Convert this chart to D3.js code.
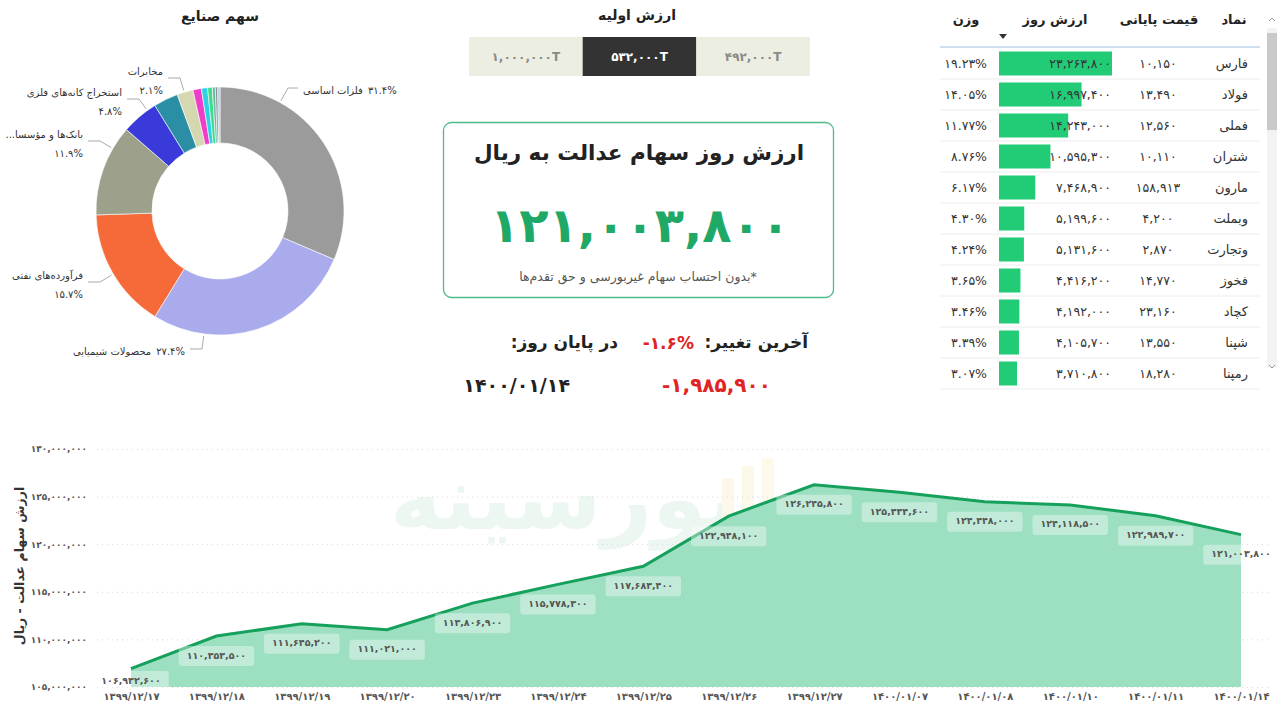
<!DOCTYPE html>
<html>
<head>
<meta charset="utf-8">
<script src="https://cdn.jsdelivr.net/npm/d3@7"></script>
<style>
body { margin: 0; background: #fff; }
svg { display: block; font-family: "DejaVu Sans", sans-serif; }
</style>
</head>
<body>
<svg width="1280" height="722"></svg>
<script>
// ---- data ----
var industries = ["فلزات اساسی", "محصولات شیمیایی", "فرآورده‌های نفتی", "بانک‌ها و مؤسسات اعتباری",
    "استخراج کانه‌های فلزی", "سایر معادن", "مخابرات", "خودرو", "سیمان", "بیمه", "دارویی", "حمل و نقل", "سایر"];
var industryShare = [31.4, 27.4, 15.7, 11.9, 4.8, 3.2, 2.1, 1.1, 0.8, 0.6, 0.4, 0.3, 0.3];

var initialValues = [1000000, 532000, 492000];
var selectedInitial = 532000;

var todayValue = 121003800;
var lastChangePct = -1.6;
var lastChange = -1985900;
var lastDate = "1400/01/14";

var symbols = ["فارس", "فولاد", "فملی", "شتران", "مارون", "وبملت", "وتجارت", "فخوز", "کچاد", "شپنا", "رمپنا"];
var closePrices = [10150, 13490, 12560, 10110, 158913, 4200, 2870, 14770, 23160, 13550, 18280];
var dayValues = [23263800, 16997400, 14243000, 10595300, 7468900, 5199600, 5131600, 4416200, 4192000, 4105700, 3710800];
var weights = [19.23, 14.05, 11.77, 8.76, 6.17, 4.30, 4.24, 3.65, 3.46, 3.39, 3.07];

var dates = ["1399/12/17", "1399/12/18", "1399/12/19", "1399/12/20", "1399/12/23", "1399/12/24", "1399/12/25",
    "1399/12/26", "1399/12/27", "1400/01/07", "1400/01/08", "1400/01/10", "1400/01/11", "1400/01/14"];
var portfolioValues = [106932600, 110353500, 111645200, 111021000, 113806900, 115778300, 117683400,
    122948100, 126245800, 125444600, 124448000, 124118500, 122989700, 121003800];

// ---- helpers ----
var RLM = "\u200F";
function fa(s) { return String(s).replace(/\d/g, function(d) { return "۰۱۲۳۴۵۶۷۸۹"[+d]; }); }
var commas = d3.format(",");

var svg = d3.select("svg");

// ================= pie (سهم صنایع) =================
var pieColors = ["#9b9b9b", "#a9abec", "#f66a3a", "#9da08b", "#3a3ada", "#2a8ea5", "#d5d7b1",
    "#ee3ec8", "#2cd3e3", "#3ddc8a", "#6fb9a8", "#8c8c8c", "#a7cde2"];
var cx = 220, cy = 211, rOuter = 124, rInner = 68;

svg.append("text")
    .attr("x", cx).attr("y", 17)
    .attr("text-anchor", "middle").attr("dominant-baseline", "middle")
    .attr("font-size", 14).attr("font-weight", "bold").attr("fill", "#222")
    .text("سهم صنایع");

var pie = d3.pie().sort(null).value(function(d) { return d; });
var arc = d3.arc().innerRadius(rInner).outerRadius(rOuter);
var arcs = pie(industryShare);

var pieG = svg.append("g").attr("transform", "translate(" + cx + "," + cy + ")");
pieG.selectAll("path").data(arcs).enter().append("path")
    .attr("d", arc)
    .attr("fill", function(d, i) { return pieColors[i]; })
    .attr("stroke", "#fff")
    .attr("stroke-width", 0.6);

// label layout: elbow point of the leader line, per labelled slice
var pieLabels = [
    { i: 0, ex: 288, ey: 88, side: "right" },
    { i: 1, ex: 202, ey: 349, side: "left1" },
    { i: 2, ex: 100, ey: 282, side: "left" },
    { i: 3, ex: 100, ey: 141, side: "left", maxW: 80 },
    { i: 4, ex: 139, ey: 99, side: "left" },
    { i: 6, ex: 180, ey: 78, side: "left" }
];

var labelG = svg.append("g").attr("font-size", 10).attr("fill", "#333");
pieLabels.forEach(function(l) {
    var dx = l.ex - cx, dy = l.ey - cy, len = Math.sqrt(dx * dx + dy * dy);
    var sx = cx + dx / len * (rOuter + 2), sy = cy + dy / len * (rOuter + 2);
    var hx = l.side === "right" ? l.ex + 10 : l.ex - 12;
    labelG.append("polyline")
        .attr("points", [[sx, sy], [l.ex, l.ey], [hx, l.ey]].join(" "))
        .attr("fill", "none").attr("stroke", "#aaa").attr("stroke-width", 1);

    var name = industries[l.i];
    var pct = fa(industryShare[l.i].toFixed(1)) + "%";
    if (l.side === "left") {
        var nt = labelG.append("text")
            .attr("x", l.ex - 17).attr("y", l.ey - 6)
            .attr("text-anchor", "end").attr("dominant-baseline", "middle")
            .text(name);
        if (l.maxW) {
            var s = name;
            while (nt.node().getComputedTextLength() > l.maxW && s.length > 1) {
                s = s.slice(0, -1);
                nt.text(s + "..." + RLM);
            }
        }
        labelG.append("text")
            .attr("x", l.ex - 17).attr("y", l.ey + 13)
            .attr("text-anchor", "end").attr("dominant-baseline", "middle")
            .text(pct);
    } else {
        // one line: name then percent on its right
        var pt = labelG.append("text").attr("dominant-baseline", "middle").attr("y", l.ey + 3).text(pct);
        var nt2 = labelG.append("text").attr("dominant-baseline", "middle").attr("y", l.ey + 3).text(name);
        var pw = pt.node().getComputedTextLength(), nw = nt2.node().getComputedTextLength();
        var left = l.side === "right" ? hx + 5 : hx - 5 - pw - 5 - nw;
        nt2.attr("x", left);
        pt.attr("x", left + nw + 5);
    }
});

// ================= initial value buttons =================
svg.append("text")
    .attr("x", 637).attr("y", 16)
    .attr("text-anchor", "middle").attr("dominant-baseline", "middle")
    .attr("font-size", 14).attr("font-weight", "bold").attr("fill", "#222")
    .text("ارزش اولیه");

var bx = d3.scaleBand().domain(d3.range(initialValues.length)).range([469, 810]);
var btn = svg.append("g").selectAll("g").data(initialValues).enter().append("g")
    .attr("transform", function(d, i) { return "translate(" + bx(i) + ",37)"; });
btn.append("rect")
    .attr("width", bx.bandwidth()).attr("height", 39)
    .attr("fill", function(d) { return d === selectedInitial ? "#333333" : "#eceee1"; });
btn.append("text")
    .attr("x", bx.bandwidth() / 2).attr("y", 20)
    .attr("text-anchor", "middle").attr("dominant-baseline", "middle")
    .attr("font-size", 12).attr("font-weight", "bold")
    .attr("fill", function(d) { return d === selectedInitial ? "#fff" : "#8a8a8a"; })
    .text(function(d) { return fa(commas(d)) + "T"; });

// ================= card =================
svg.append("rect")
    .attr("x", 443.5).attr("y", 122.5).attr("width", 390).attr("height", 175).attr("rx", 8)
    .attr("fill", "none").attr("stroke", "#4dbb85").attr("stroke-width", 1.3);
svg.append("text")
    .attr("x", 639).attr("y", 154)
    .attr("text-anchor", "middle").attr("dominant-baseline", "middle")
    .attr("font-size", 21.5).attr("font-weight", "bold").attr("fill", "#222")
    .text("ارزش روز سهام عدالت به ریال");
svg.append("text")
    .attr("x", 640).attr("y", 229)
    .attr("text-anchor", "middle").attr("dominant-baseline", "middle")
    .attr("font-size", 48).attr("font-weight", "bold").attr("fill", "#1fa866")
    .text(fa(commas(todayValue)));
svg.append("text")
    .attr("x", 638).attr("y", 277)
    .attr("text-anchor", "middle").attr("dominant-baseline", "middle")
    .attr("font-size", 12.5).attr("fill", "#555")
    .text(RLM + "*بدون احتساب سهام غیربورسی و حق تقدم‌ها");

// ================= last change =================
var chg = svg.append("g").attr("font-weight", "bold").attr("dominant-baseline", "middle");
chg.append("text").attr("x", 808).attr("y", 343).attr("text-anchor", "end")
    .attr("font-size", 17).attr("fill", "#222").text("آخرین تغییر:" + RLM);
chg.append("text").attr("x", 694).attr("y", 344).attr("text-anchor", "end")
    .attr("font-size", 17).attr("fill", "#e02323").text(fa(lastChangePct.toFixed(1)) + "%");
chg.append("text").attr("x", 618).attr("y", 343).attr("text-anchor", "end")
    .attr("font-size", 17).attr("fill", "#222").text("در پایان روز:" + RLM);
chg.append("text").attr("x", 771).attr("y", 386).attr("text-anchor", "end")
    .attr("font-size", 20).attr("fill", "#e02323").text(fa(commas(lastChange)).replace("−", "-"));
chg.append("text").attr("x", 570).attr("y", 386).attr("text-anchor", "end")
    .attr("font-size", 19).attr("fill", "#222").text(fa(lastDate));

// ================= table =================
var tbl = svg.append("g").attr("font-size", 12.5).attr("fill", "#333");
var headers = [
    { t: "نماد", x: 1234 }, { t: "قیمت پایانی", x: 1159 }, { t: "ارزش روز", x: 1055 }, { t: "وزن", x: 966 }
];
tbl.selectAll("text.h").data(headers).enter().append("text")
    .attr("class", "h")
    .attr("x", function(d) { return d.x; }).attr("y", 20)
    .attr("text-anchor", "middle").attr("dominant-baseline", "middle")
    .attr("font-size", 13).attr("font-weight", "bold").attr("fill", "#222")
    .text(function(d) { return d.t; });
tbl.append("path").attr("d", "M999,34 l8,0 l-4,5 z").attr("fill", "#333");
tbl.append("line").attr("x1", 940).attr("x2", 1260).attr("y1", 47).attr("y2", 47)
    .attr("stroke", "#9dc0e6").attr("stroke-width", 1.2);

var ry = d3.scaleBand().domain(symbols).range([48, 48 + 31 * symbols.length]);
var bw = d3.scaleLinear().domain([0, d3.max(dayValues)]).range([0, 113]);

var rows = tbl.selectAll("g.row").data(symbols).enter().append("g")
    .attr("class", "row")
    .attr("transform", function(d) { return "translate(0," + ry(d) + ")"; });
var mid = ry.bandwidth() / 2;
rows.append("line").attr("x1", 940).attr("x2", 1260)
    .attr("y1", ry.bandwidth()).attr("y2", ry.bandwidth())
    .attr("stroke", "#ececec");
rows.append("rect")
    .attr("x", 999).attr("y", mid - 12).attr("height", 24)
    .attr("width", function(d, i) { return bw(dayValues[i]); })
    .attr("fill", "#22cc77");
rows.append("text").attr("x", 1248).attr("y", mid + 1)
    .attr("text-anchor", "end").attr("dominant-baseline", "middle").attr("font-size", 13)
    .text(function(d) { return d; });
rows.append("text").attr("x", 1158).attr("y", mid + 1)
    .attr("text-anchor", "middle").attr("dominant-baseline", "middle")
    .text(function(d, i) { return fa(commas(closePrices[i])); });
rows.append("text").attr("x", 1111).attr("y", mid + 1)
    .attr("text-anchor", "end").attr("dominant-baseline", "middle")
    .text(function(d, i) { return fa(commas(dayValues[i])); });
rows.append("text").attr("x", 987).attr("y", mid + 1)
    .attr("text-anchor", "end").attr("dominant-baseline", "middle")
    .text(function(d, i) { return fa(weights[i].toFixed(2)) + "%"; });

// scrollbar
tbl.append("rect").attr("x", 1267).attr("y", 28).attr("width", 10).attr("height", 340).attr("fill", "#f3f3f3");
tbl.append("rect").attr("x", 1267).attr("y", 33).attr("width", 10).attr("height", 97).attr("fill", "#c9c9c9");
tbl.append("path").attr("d", "M1269,21 l3,-3 l3,3").attr("fill", "none").attr("stroke", "#999");
tbl.append("path").attr("d", "M1269,365 l3,3 l3,-3").attr("fill", "none").attr("stroke", "#999");

// ================= area chart =================
var x = d3.scalePoint().domain(dates).range([131, 1241]);
var y = d3.scaleLinear().domain([105000000, 130000000]).range([687, 449]);

// watermark (faint logo behind the chart)
var wm = svg.append("g").attr("opacity", 0.08);
wm.append("text").attr("x", 565).attr("y", 505)
    .attr("text-anchor", "middle").attr("dominant-baseline", "middle")
    .attr("font-size", 88).attr("font-weight", "bold").attr("fill", "#1aa860")
    .text("بورسینه");
[[722, 478, 20], [742, 466, 32], [762, 458, 40]].forEach(function(b) {
    wm.append("rect").attr("x", b[0]).attr("y", b[1]).attr("width", 12).attr("height", b[2] + 45).attr("fill", "#e8c000");
});

var yAxis = svg.append("g")
    .attr("transform", "translate(97,0)")
    .call(d3.axisLeft(y).ticks(5).tickSize(-1173).tickPadding(10)
        .tickFormat(function(d) { return fa(commas(d)); }));
yAxis.select(".domain").remove();
yAxis.selectAll("line").attr("stroke", "#d8d8d8").attr("stroke-dasharray", "1,4");
yAxis.selectAll("text").attr("font-size", 9).attr("font-weight", "bold").attr("fill", "#555")
    .attr("font-family", "DejaVu Sans");

var area = d3.area()
    .x(function(d, i) { return x(dates[i]); })
    .y0(y(105000000))
    .y1(function(d) { return y(d); });
var line = d3.line()
    .x(function(d, i) { return x(dates[i]); })
    .y(function(d) { return y(d); });

svg.append("path").datum(portfolioValues).attr("d", area).attr("fill", "#9cdfc1");
svg.append("path").datum(portfolioValues).attr("d", line)
    .attr("fill", "none").attr("stroke", "#15a05c").attr("stroke-width", 3);

var xAxis = svg.append("g")
    .attr("transform", "translate(0,687)")
    .call(d3.axisBottom(x).tickSize(0).tickPadding(6).tickFormat(fa));
xAxis.select(".domain").remove();
xAxis.selectAll("text").attr("font-size", 10).attr("font-weight", "bold").attr("fill", "#555")
    .attr("font-family", "DejaVu Sans");

// data labels
var lab = svg.append("g").selectAll("g").data(portfolioValues).enter().append("g")
    .attr("transform", function(d, i) {
        return "translate(" + x(dates[i]) + "," + Math.min(y(d) + 20, 681) + ")";
    });
lab.append("text")
    .attr("text-anchor", "middle").attr("dominant-baseline", "middle")
    .attr("font-size", 9.5).attr("font-weight", "bold").attr("fill", "#555")
    .text(function(d) { return fa(commas(d)); });
lab.insert("rect", "text")
    .each(function() {
        var w = this.parentNode.querySelector("text").getComputedTextLength() + 16;
        d3.select(this).attr("x", -w / 2).attr("y", -10).attr("width", w).attr("height", 20);
    })
    .attr("rx", 3).attr("fill", "#fff").attr("fill-opacity", 0.38);

svg.append("text")
    .attr("transform", "translate(20,566) rotate(-90)")
    .attr("text-anchor", "middle").attr("dominant-baseline", "middle")
    .attr("font-size", 12.5).attr("font-weight", "bold").attr("fill", "#333")
    .text("ارزش سهام عدالت - ریال");
</script>
</body>
</html>
